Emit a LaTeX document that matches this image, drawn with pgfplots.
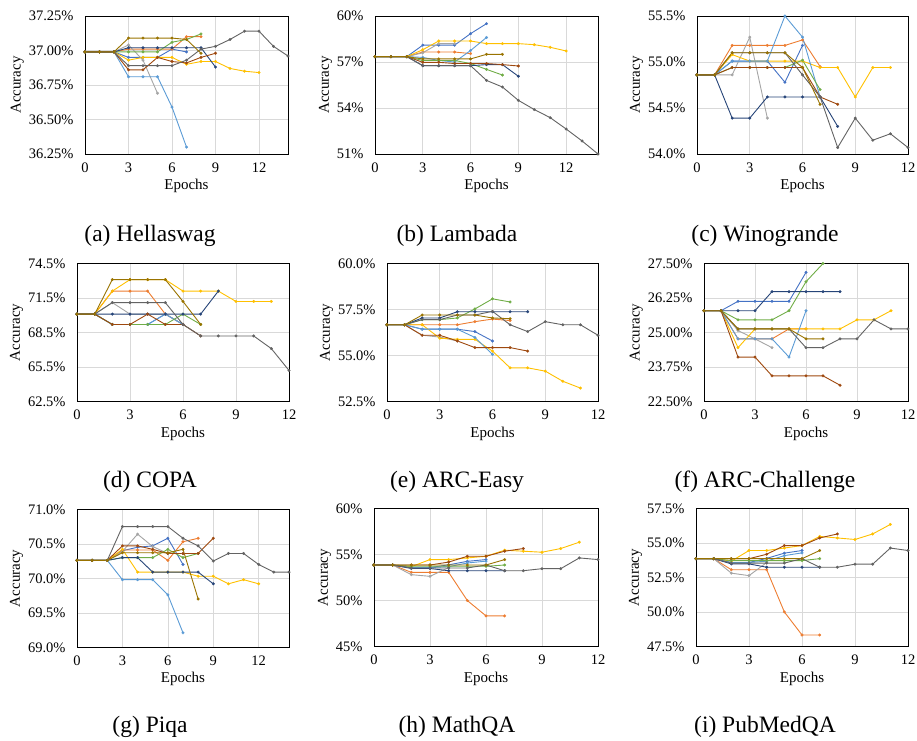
\documentclass[border=0pt]{standalone}
\usepackage{pgfplots}
\pgfplotsset{compat=1.18}
\usepackage{fontspec}
\setmainfont{Liberation Serif}

\definecolor{c1}{HTML}{4472C4}
\definecolor{c2}{HTML}{ED7D31}
\definecolor{c3}{HTML}{A5A5A5}
\definecolor{c4}{HTML}{FFC000}
\definecolor{c5}{HTML}{5B9BD5}
\definecolor{c6}{HTML}{70AD47}
\definecolor{c7}{HTML}{264478}
\definecolor{c8}{HTML}{9E480E}
\definecolor{c9}{HTML}{636363}
\definecolor{c10}{HTML}{997300}
\definecolor{gridc}{HTML}{D9D9D9}

\pgfplotscreateplotcyclelist{excel}{
  {c1,mark=*},{c2,mark=*},{c3,mark=*},{c4,mark=*},{c5,mark=*},
  {c6,mark=*},{c7,mark=*},{c8,mark=*},{c9,mark=*},{c10,mark=*}}

\pgfplotsset{
  panel/.style={
    scale only axis, clip=false, anchor=south west,
    height=138pt, xmin=0,
    xtick={0,3,6,9,12}, xticklabels={0,3,6,9,12},
    grid=major, major grid style={draw=gridc, line width=0.6pt},
    axis line style={draw=black, line width=0.7pt},
    major tick length=0pt,
    xticklabel shift=5pt, yticklabel shift=8pt,
    tick label style={font=\fontsize{14.5}{15}\selectfont},
    label style={font=\fontsize{15}{15}\selectfont},
    xlabel={Epochs}, ylabel={Accuracy},
    ylabel shift=-2pt,
    cycle list name=excel,
    every axis plot/.append style={line width=0.9pt, mark size=1.4pt,
      mark options={line width=0.2pt}},
    /pgf/number format/assume math mode=true,
  }
}

\begin{document}
\begin{tikzpicture}
\useasboundingbox (0,0) rectangle (917pt,740pt);

% (a) Hellaswag
\begin{axis}[panel, at={(85pt,586pt)}, width=203pt, xmax=14,
  ymin=36.25, ymax=37.25, ytick={36.25,36.5,36.75,37,37.25},
  yticklabels={36.25\%,36.50\%,36.75\%,37.00\%,37.25\%}]
\addplot coordinates {(0,36.99)(1,36.99)(2,36.99)(3,36.95)(4,36.95)(5,36.95)(6,37.01)(7,36.99)};
\addplot coordinates {(0,36.99)(1,36.99)(2,36.99)(3,37.01)(4,37.01)(5,37.01)(6,37.01)(7,37.10)(8,37.10)};
\addplot coordinates {(0,36.99)(1,36.99)(2,36.99)(3,37.04)(4,36.93)(5,36.69)};
\addplot coordinates {(0,36.99)(1,36.99)(2,36.99)(3,36.93)(4,36.95)(5,36.95)(6,36.95)(7,36.90)(8,36.92)(9,36.92)(10,36.87)(11,36.85)(12,36.84)};
\addplot coordinates {(0,36.99)(1,36.99)(2,36.99)(3,36.81)(4,36.81)(5,36.81)(6,36.59)(7,36.30)};
\addplot coordinates {(0,36.99)(1,36.99)(2,36.99)(3,36.99)(4,36.99)(5,36.99)(6,37.06)(7,37.08)(8,37.12)};
\addplot coordinates {(0,36.99)(1,36.99)(2,36.99)(3,37.02)(4,37.02)(5,37.02)(6,37.02)(7,37.02)(8,37.02)(9,36.88)};
\addplot coordinates {(0,36.99)(1,36.99)(2,36.99)(3,36.86)(4,36.86)(5,36.95)(6,36.92)(7,36.91)(8,36.95)(9,36.98)};
\addplot coordinates {(0,36.99)(1,36.99)(2,36.99)(3,36.89)(4,36.89)(5,36.89)(6,36.89)(7,36.93)(8,37.01)(9,37.03)(10,37.08)(11,37.14)(12,37.14)(13,37.03)(14,36.96)};
\addplot coordinates {(0,36.99)(1,36.99)(2,36.99)(3,37.09)(4,37.09)(5,37.09)(6,37.09)(7,37.08)(8,36.98)};
\end{axis}

% (b) Lambada
\begin{axis}[panel, at={(375pt,586pt)}, width=223pt, xmax=14,
  ymin=51, ymax=60, ytick={51,54,57,60},
  yticklabels={51\%,54\%,57\%,60\%}]
\addplot coordinates {(0,57.35)(1,57.35)(2,57.35)(3,58.1)(4,58.1)(5,58.1)(6,58.85)(7,59.5)};
\addplot coordinates {(0,57.35)(1,57.35)(2,57.35)(3,57.65)(4,57.65)(5,57.65)(6,57.55)};
\addplot coordinates {(0,57.35)(1,57.35)(2,57.35)(3,57.6)(4,58.2)(5,58.2)};
\addplot coordinates {(0,57.35)(1,57.35)(2,57.35)(3,57.8)(4,58.37)(5,58.37)(6,58.37)(7,58.2)(8,58.2)(9,58.2)(10,58.13)(11,57.96)(12,57.72)};
\addplot coordinates {(0,57.35)(1,57.35)(2,57.35)(3,57.3)(4,57.1)(5,57.0)(6,57.75)(7,58.6)};
\addplot coordinates {(0,57.35)(1,57.35)(2,57.35)(3,57.1)(4,57.1)(5,57.1)(6,56.9)(7,56.52)(8,56.15)};
\addplot coordinates {(0,57.35)(1,57.35)(2,57.35)(3,56.76)(4,56.76)(5,56.76)(6,56.76)(7,56.83)(8,56.83)(9,56.07)};
\addplot coordinates {(0,57.35)(1,57.35)(2,57.35)(3,56.98)(4,56.98)(5,56.9)(6,56.9)(7,56.9)(8,56.83)(9,56.74)};
\addplot coordinates {(0,57.35)(1,57.35)(2,57.35)(3,56.76)(4,56.76)(5,56.76)(6,56.76)(7,55.8)(8,55.37)(9,54.5)(10,53.9)(11,53.37)(12,52.63)(13,51.85)(14,51.0)};
\addplot coordinates {(0,57.35)(1,57.35)(2,57.35)(3,57.2)(4,57.2)(5,57.2)(6,57.2)(7,57.5)(8,57.5)};
\end{axis}

% (c) Winogrande
\begin{axis}[panel, at={(697pt,586pt)}, width=211pt, xmax=12,
  ymin=54, ymax=55.5, ytick={54,54.5,55,55.5},
  yticklabels={54.0\%,54.5\%,55.0\%,55.5\%}]
\addplot coordinates {(0,54.86)(1,54.86)(2,55.01)(3,55.01)(4,55.01)(5,54.78)(6,55.18)};
\addplot coordinates {(0,54.86)(1,54.86)(2,55.18)(3,55.18)(4,55.18)(5,55.18)(6,55.24)(7,54.95)};
\addplot coordinates {(0,54.86)(1,54.86)(2,54.86)(3,55.27)(4,54.39)};
\addplot coordinates {(0,54.86)(1,54.86)(2,55.08)(3,55.01)(4,55.01)(5,55.01)(6,55.01)(7,54.94)(8,54.94)(9,54.62)(10,54.94)(11,54.94)};
\addplot coordinates {(0,54.86)(1,54.86)(2,55.01)(3,55.01)(4,55.01)(5,55.5)(6,55.27)(7,54.62)};
\addplot coordinates {(0,54.86)(1,54.86)(2,54.94)(3,54.94)(4,54.94)(5,54.94)(6,55.02)(7,54.7)};
\addplot coordinates {(0,54.86)(1,54.86)(2,54.39)(3,54.39)(4,54.62)(5,54.62)(6,54.62)(7,54.62)(8,54.3)};
\addplot coordinates {(0,54.86)(1,54.86)(2,54.94)(3,54.94)(4,54.94)(5,54.94)(6,54.94)(7,54.62)(8,54.54)};
\addplot coordinates {(0,54.86)(1,54.86)(2,55.1)(3,55.1)(4,55.1)(5,55.1)(6,54.86)(7,54.62)(8,54.07)(9,54.39)(10,54.15)(11,54.22)(12,54.07)};
\addplot coordinates {(0,54.86)(1,54.86)(2,55.1)(3,55.1)(4,55.1)(5,55.1)(6,54.94)(7,54.54)};
\end{axis}

% (d) COPA
\begin{axis}[panel, at={(77pt,338.5pt)}, width=212pt, xmax=12,
  ymin=62.5, ymax=74.5, ytick={62.5,65.5,68.5,71.5,74.5},
  yticklabels={62.5\%,65.5\%,68.5\%,71.5\%,74.5\%}]
\addplot coordinates {(0,70.1)(1,70.1)(2,69.2)(3,69.2)(4,69.2)(5,70.1)(6,69.2)};
\addplot coordinates {(0,70.1)(1,70.1)(2,72.1)(3,72.1)(4,72.1)(5,70.1)(6,69.2)};
\addplot coordinates {(0,70.1)(1,70.1)(2,71.1)(3,70.1)(4,70.1)(5,70.1)(6,69.2)};
\addplot coordinates {(0,70.1)(1,70.1)(2,72.1)(3,73.1)(4,73.1)(5,73.1)(6,72.1)(7,72.1)(8,72.1)(9,71.2)(10,71.2)(11,71.2)};
\addplot coordinates {(0,70.1)(1,70.1)(2,69.2)(3,69.2)(4,69.2)(5,70.1)(6,69.2)};
\addplot coordinates {(0,70.1)(1,70.1)(2,69.2)(3,69.2)(4,69.2)(5,69.2)(6,70.1)(7,69.2)};
\addplot coordinates {(0,70.1)(1,70.1)(2,70.1)(3,70.1)(4,70.1)(5,70.1)(6,70.1)(7,70.1)(8,72.1)};
\addplot coordinates {(0,70.1)(1,70.1)(2,69.2)(3,69.2)(4,70.1)(5,69.2)(6,69.2)(7,68.2)};
\addplot coordinates {(0,70.1)(1,70.1)(2,71.1)(3,71.1)(4,71.1)(5,71.1)(6,69.2)(7,68.2)(8,68.2)(9,68.2)(10,68.2)(11,67.1)(12,65.2)};
\addplot coordinates {(0,70.1)(1,70.1)(2,73.1)(3,73.1)(4,73.1)(5,73.1)(6,71.2)(7,69.2)};
\end{axis}

% (e) ARC-Easy
\begin{axis}[panel, at={(387pt,338.5pt)}, width=211pt, xmax=12,
  ymin=52.5, ymax=60, ytick={52.5,55,57.5,60},
  yticklabels={52.5\%,55.0\%,57.5\%,60.0\%}]
\addplot coordinates {(0,56.67)(1,56.67)(2,56.43)(3,56.43)(4,56.43)(5,56.3)(6,55.79)};
\addplot coordinates {(0,56.67)(1,56.67)(2,56.67)(3,56.67)(4,56.67)(5,56.84)(6,56.98)(7,56.9)};
\addplot coordinates {(0,56.67)(1,56.67)(2,56.1)(3,56.0)(4,55.79)};
\addplot coordinates {(0,56.67)(1,56.67)(2,56.67)(3,55.94)(4,55.88)(5,55.88)(6,55.24)(7,54.33)(8,54.33)(9,54.15)(10,53.6)(11,53.23)};
\addplot coordinates {(0,56.67)(1,56.67)(2,56.43)(3,56.43)(4,56.43)(5,55.98)(6,55.06)};
\addplot coordinates {(0,56.67)(1,56.67)(2,56.95)(3,56.95)(4,57.04)(5,57.53)(6,58.08)(7,57.91)};
\addplot coordinates {(0,56.67)(1,56.67)(2,57.04)(3,57.04)(4,57.38)(5,57.38)(6,57.38)(7,57.38)(8,57.38)};
\addplot coordinates {(0,56.67)(1,56.67)(2,56.1)(3,56.1)(4,55.79)(5,55.43)(6,55.43)(7,55.43)(8,55.24)};
\addplot coordinates {(0,56.67)(1,56.67)(2,56.95)(3,56.95)(4,57.2)(5,57.2)(6,57.4)(7,56.67)(8,56.3)(9,56.84)(10,56.67)(11,56.67)(12,56.1)};
\addplot coordinates {(0,56.67)(1,56.67)(2,57.2)(3,57.2)(4,57.2)(5,57.2)(6,57.04)(7,57.0)};
\end{axis}

% (f) ARC-Challenge
\begin{axis}[panel, at={(704pt,338.5pt)}, width=204pt, xmax=12,
  ymin=22.5, ymax=27.5, ytick={22.5,23.75,25,26.25,27.5},
  yticklabels={22.50\%,23.75\%,25.00\%,26.25\%,27.50\%}]
\addplot coordinates {(0,25.79)(1,25.79)(2,26.13)(3,26.13)(4,26.13)(5,26.13)(6,27.18)};
\addplot coordinates {(0,25.79)(1,25.79)(2,24.77)(3,24.77)(4,24.77)(5,25.13)(6,25.13)};
\addplot coordinates {(0,25.79)(1,25.79)(2,25.07)(3,24.77)(4,24.45)};
\addplot coordinates {(0,25.79)(1,25.79)(2,24.45)(3,25.13)(4,25.13)(5,25.13)(6,25.13)(7,25.13)(8,25.13)(9,25.46)(10,25.46)(11,25.79)};
\addplot coordinates {(0,25.79)(1,25.79)(2,24.77)(3,24.77)(4,24.77)(5,24.11)(6,25.79)};
\addplot coordinates {(0,25.79)(1,25.79)(2,25.46)(3,25.46)(4,25.46)(5,25.79)(6,26.84)(7,27.5)};
\addplot coordinates {(0,25.79)(1,25.79)(2,25.79)(3,25.79)(4,26.48)(5,26.48)(6,26.48)(7,26.48)(8,26.48)};
\addplot coordinates {(0,25.79)(1,25.79)(2,24.11)(3,24.11)(4,23.43)(5,23.43)(6,23.43)(7,23.43)(8,23.09)};
\addplot coordinates {(0,25.79)(1,25.79)(2,25.13)(3,25.13)(4,25.13)(5,25.13)(6,24.45)(7,24.45)(8,24.77)(9,24.77)(10,25.46)(11,25.13)(12,25.13)};
\addplot coordinates {(0,25.79)(1,25.79)(2,25.13)(3,25.13)(4,25.13)(5,25.13)(6,24.77)(7,24.77)};
\end{axis}

% (g) Piqa
\begin{axis}[panel, at={(77pt,92.7pt)}, width=212pt, xmax=14,
  ymin=69, ymax=71, ytick={69,69.5,70,70.5,71},
  yticklabels={69.0\%,69.5\%,70.0\%,70.5\%,71.0\%}]
\addplot coordinates {(0,70.26)(1,70.26)(2,70.26)(3,70.40)(4,70.45)(5,70.47)(6,70.58)(7,70.2)};
\addplot coordinates {(0,70.26)(1,70.26)(2,70.26)(3,70.41)(4,70.41)(5,70.41)(6,70.26)(7,70.53)(8,70.58)};
\addplot coordinates {(0,70.26)(1,70.26)(2,70.26)(3,70.39)(4,70.64)(5,70.46)(6,70.36)(7,70.36)};
\addplot coordinates {(0,70.26)(1,70.26)(2,70.26)(3,70.42)(4,70.09)(5,70.09)(6,70.09)(7,70.09)(8,70.03)(9,70.03)(10,69.92)(11,69.98)(12,69.92)};
\addplot coordinates {(0,70.26)(1,70.26)(2,70.26)(3,69.98)(4,69.98)(5,69.98)(6,69.76)(7,69.21)};
\addplot coordinates {(0,70.26)(1,70.26)(2,70.26)(3,70.3)(4,70.3)(5,70.3)(6,70.42)(7,70.3)(8,70.36)};
\addplot coordinates {(0,70.26)(1,70.26)(2,70.26)(3,70.3)(4,70.3)(5,70.09)(6,70.09)(7,70.09)(8,70.09)(9,69.92)};
\addplot coordinates {(0,70.26)(1,70.26)(2,70.26)(3,70.47)(4,70.47)(5,70.42)(6,70.36)(7,70.36)(8,70.36)(9,70.58)};
\addplot coordinates {(0,70.26)(1,70.26)(2,70.26)(3,70.75)(4,70.75)(5,70.75)(6,70.75)(7,70.58)(8,70.47)(9,70.25)(10,70.36)(11,70.36)(12,70.2)(13,70.09)(14,70.09)};
\addplot coordinates {(0,70.26)(1,70.26)(2,70.26)(3,70.37)(4,70.37)(5,70.37)(6,70.37)(7,70.42)(8,69.7)};
\end{axis}

% (h) MathQA
\begin{axis}[panel, at={(374pt,93.3pt)}, width=224pt, xmax=12,
  ymin=45, ymax=60, ytick={45,50,55,60},
  yticklabels={45\%,50\%,55\%,60\%}]
\addplot coordinates {(0,53.88)(1,53.88)(2,53.6)(3,53.6)(4,53.9)(5,54.28)(6,54.47)};
\addplot coordinates {(0,53.88)(1,53.88)(2,53.08)(3,53.08)(4,53.08)(5,50.02)(6,48.35)(7,48.35)};
\addplot coordinates {(0,53.88)(1,53.88)(2,52.83)(3,52.65)(4,53.6)};
\addplot coordinates {(0,53.88)(1,53.88)(2,53.7)(3,54.47)(4,54.47)(5,54.65)(6,54.83)(7,55.49)(8,55.38)(9,55.27)(10,55.67)(11,56.36)};
\addplot coordinates {(0,53.88)(1,53.88)(2,53.6)(3,53.6)(4,53.7)(5,54.1)(6,54.3)};
\addplot coordinates {(0,53.88)(1,53.88)(2,53.74)(3,53.74)(4,53.74)(5,53.74)(6,53.74)(7,53.88)};
\addplot coordinates {(0,53.88)(1,53.88)(2,53.5)(3,53.5)(4,53.26)(5,53.26)(6,53.26)(7,53.26)};
\addplot coordinates {(0,53.88)(1,53.88)(2,53.88)(3,53.88)(4,54.2)(5,54.83)(6,54.83)(7,55.38)(8,55.67)};
\addplot coordinates {(0,53.88)(1,53.88)(2,53.56)(3,53.56)(4,53.56)(5,53.56)(6,53.88)(7,53.26)(8,53.26)(9,53.48)(10,53.48)(11,54.65)(12,54.47)};
\addplot coordinates {(0,53.88)(1,53.88)(2,53.88)(3,53.88)(4,53.88)(5,53.88)(6,53.88)(7,54.47)};
\end{axis}

% (i) PubMedQA
\begin{axis}[panel, at={(696pt,93.3pt)}, width=212pt, xmax=12,
  ymin=47.5, ymax=57.5, ytick={47.5,50,52.5,55,57.5},
  yticklabels={47.5\%,50.0\%,52.5\%,55.0\%,57.5\%}]
\addplot coordinates {(0,53.88)(1,53.88)(2,53.6)(3,53.6)(4,53.9)(5,54.28)(6,54.47)};
\addplot coordinates {(0,53.88)(1,53.88)(2,53.08)(3,53.08)(4,53.08)(5,50.02)(6,48.35)(7,48.35)};
\addplot coordinates {(0,53.88)(1,53.88)(2,52.83)(3,52.65)(4,53.6)};
\addplot coordinates {(0,53.88)(1,53.88)(2,53.7)(3,54.47)(4,54.47)(5,54.65)(6,54.83)(7,55.49)(8,55.38)(9,55.27)(10,55.67)(11,56.36)};
\addplot coordinates {(0,53.88)(1,53.88)(2,53.6)(3,53.6)(4,53.7)(5,54.1)(6,54.3)};
\addplot coordinates {(0,53.88)(1,53.88)(2,53.74)(3,53.74)(4,53.74)(5,53.74)(6,53.74)(7,53.88)};
\addplot coordinates {(0,53.88)(1,53.88)(2,53.5)(3,53.5)(4,53.26)(5,53.26)(6,53.26)(7,53.26)};
\addplot coordinates {(0,53.88)(1,53.88)(2,53.88)(3,53.88)(4,54.2)(5,54.83)(6,54.83)(7,55.38)(8,55.67)};
\addplot coordinates {(0,53.88)(1,53.88)(2,53.56)(3,53.56)(4,53.56)(5,53.56)(6,53.88)(7,53.26)(8,53.26)(9,53.48)(10,53.48)(11,54.65)(12,54.47)};
\addplot coordinates {(0,53.88)(1,53.88)(2,53.88)(3,53.88)(4,53.88)(5,53.88)(6,53.88)(7,54.47)};
\end{axis}

% captions
\begin{scope}[every node/.style={font=\fontsize{23.5}{24}\selectfont, inner sep=0pt, anchor=base}]
\node at (150pt,498pt) {(a) Hellaswag};
\node at (457pt,498pt) {(b) Lambada};
\node at (765pt,498pt) {(c) Winogrande};
\node at (150pt,253pt) {(d) COPA};
\node at (457pt,253pt) {(e) ARC-Easy};
\node at (765pt,253pt) {(f) ARC-Challenge};
\node at (150pt,8pt) {(g) Piqa};
\node at (457pt,8pt) {(h) MathQA};
\node at (765pt,8pt) {(i) PubMedQA};
\end{scope}
\end{tikzpicture}
\end{document}
